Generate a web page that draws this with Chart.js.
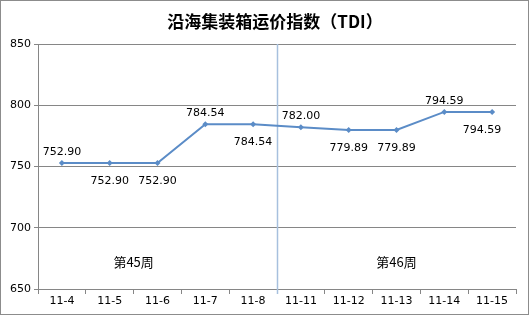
<!DOCTYPE html>
<html>
<head>
<meta charset="utf-8">
<script src="https://cdn.jsdelivr.net/npm/chart.js@4/dist/chart.umd.min.js"></script>
<style>
  html, body { margin: 0; padding: 0; background: #fff; }
  #wrap { width: 529px; height: 315px; position: relative; }
</style>
</head>
<body>
<div id="wrap"><canvas id="tdiChart" width="529" height="315"></canvas></div>
<script>
// Chart data
const title = '沿海集装箱运价指数（TDI）';
const dates = ['11-4', '11-5', '11-6', '11-7', '11-8', '11-11', '11-12', '11-13', '11-14', '11-15'];
const tdiValues = [752.90, 752.90, 752.90, 784.54, 784.54, 782.00, 779.89, 779.89, 794.59, 794.59];
const yTicks = [650, 700, 750, 800, 850];
const weekLabels = ['第45周', '第46周'];

// Label placement (above / below the point), as in the original
const labelSide = ['up', 'down', 'down', 'up', 'down', 'up', 'down', 'down', 'up', 'down'];

const FONT = '"DejaVu Sans", "Noto Sans CJK SC", sans-serif';
const LINE_BLUE = '#5b8cc7';

// Draws title, value labels, week separator and week captions
const decorPlugin = {
  id: 'decor',
  beforeDatasetsDraw(chart) {
    const { ctx, chartArea, scales } = chart;
    // separator between the two weeks
    const xSep = (scales.x.getPixelForValue(4) + scales.x.getPixelForValue(5)) / 2;
    ctx.save();
    ctx.strokeStyle = '#a7c0de';
    ctx.lineWidth = 1.5;
    ctx.beginPath();
    ctx.moveTo(Math.round(xSep) + 0.5, chartArea.top);
    ctx.lineTo(Math.round(xSep) + 0.5, chartArea.bottom + 5);
    ctx.stroke();
    ctx.restore();
  },
  afterDraw(chart) {
    const { ctx, scales } = chart;
    ctx.save();
    // title
    ctx.fillStyle = '#000';
    ctx.font = 'bold 17px "Noto Sans CJK SC", sans-serif';
    ctx.textAlign = 'center';
    ctx.textBaseline = 'middle';
    ctx.fillText(title, 275, 22);

    // value labels
    ctx.font = '11px ' + FONT;
    ctx.fillStyle = '#000';
    const meta = chart.getDatasetMeta(0);
    meta.data.forEach((pt, i) => {
      const dy = labelSide[i] === 'up' ? -11 : 18;
      // last label is pulled in from the right edge
      const dx = i === meta.data.length - 1 ? -10 : 0;
      ctx.fillText(tdiValues[i].toFixed(2), pt.x + dx, pt.y + dy);
    });

    // week captions
    ctx.font = '13px "Noto Sans CJK SC", sans-serif';
    const yCap = scales.y.getPixelForValue(672);
    ctx.fillText(weekLabels[0], scales.x.getPixelForValue(1.5), yCap);
    ctx.fillText(weekLabels[1], scales.x.getPixelForValue(7), yCap);

    // outer border
    ctx.strokeStyle = '#8c8c8c';
    ctx.lineWidth = 1;
    ctx.strokeRect(0.5, 0.5, chart.width - 1, chart.height - 1);
    ctx.restore();
  }
};

new Chart(document.getElementById('tdiChart'), {
  type: 'line',
  data: {
    labels: dates,
    datasets: [{
      data: tdiValues,
      borderColor: LINE_BLUE,
      backgroundColor: LINE_BLUE,
      borderWidth: 2,
      pointStyle: 'rectRot',
      pointRadius: 3,
      pointBorderWidth: 0,
      tension: 0,
      fill: false
    }]
  },
  options: {
    responsive: false,
    animation: false,
    layout: { padding: { top: 44, right: 13, left: 0, bottom: 0 } },
    plugins: {
      legend: { display: false },
      tooltip: { enabled: false }
    },
    scales: {
      x: {
        offset: true,
        grid: {
          offset: true,
          drawOnChartArea: false,
          drawTicks: true,
          tickLength: 5,
          color: '#868686'
        },
        border: { color: '#868686' },
        ticks: {
          color: '#000',
          font: { family: FONT, size: 11 },
          padding: 1,
          maxRotation: 0
        },
        afterFit(scale) { scale.height = 26; }
      },
      y: {
        min: 650,
        max: 850,
        afterBuildTicks(scale) { scale.ticks = yTicks.map(v => ({ value: v })); },
        grid: {
          color: '#868686',
          tickLength: 4
        },
        border: { color: '#868686' },
        ticks: {
          color: '#000',
          font: { family: FONT, size: 11 },
          padding: 3
        },
        afterFit(scale) { scale.width = 38; }
      }
    }
  },
  plugins: [decorPlugin]
});
</script>
</body>
</html>
